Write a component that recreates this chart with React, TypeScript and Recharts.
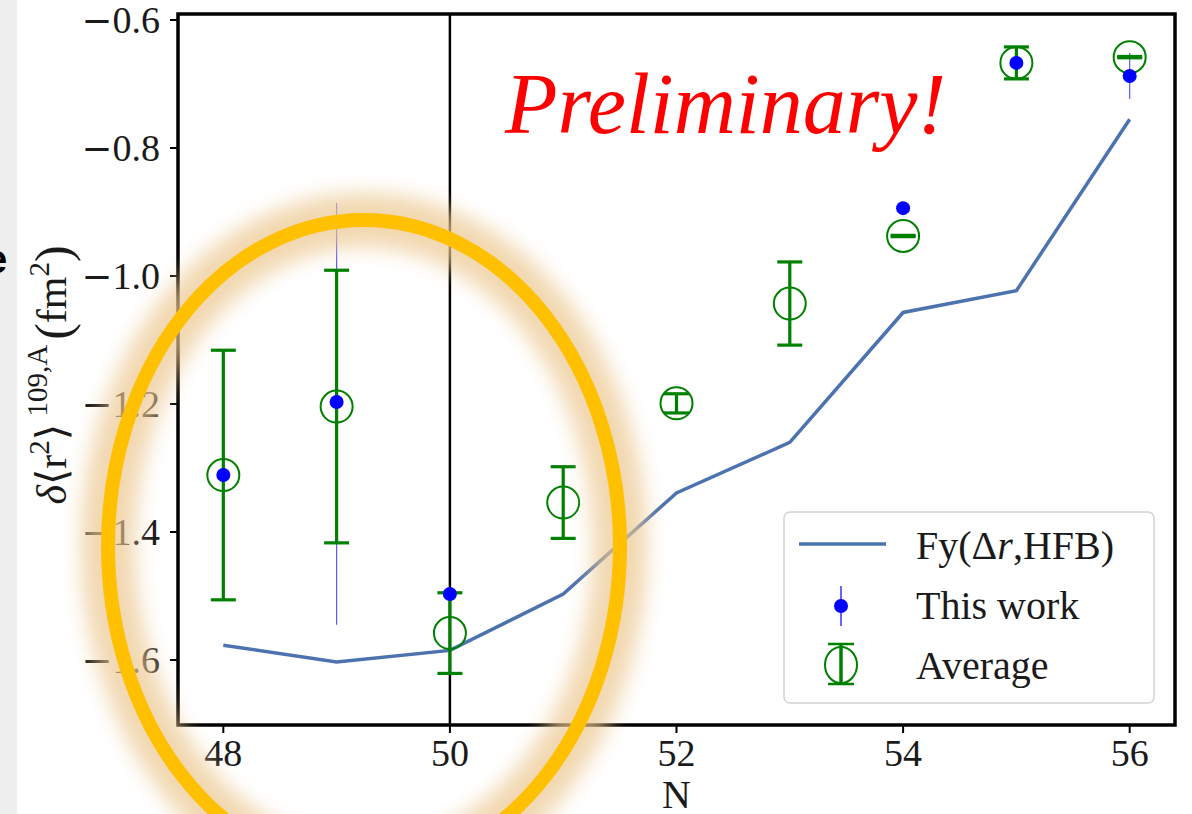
import React from "react";
import {
  ComposedChart,
  Line,
  Scatter,
  ErrorBar,
  XAxis,
  YAxis,
  ReferenceLine,
  ReferenceArea,
  Legend,
} from "recharts";

// Fy(Δr,HFB) model curve
const hfbN = [48, 49, 50, 51, 52, 53, 54, 55, 56];
const hfbValues = [-1.577, -1.603, -1.585, -1.497, -1.339, -1.26, -1.057, -1.023, -0.755];

// This work: value and [lower, upper] uncertainty
const workN = [48, 49, 50, 54, 55, 56];
const workValues = [-1.311, -1.197, -1.497, -0.894, -0.667, -0.6875];
const workErrLow = [0.18, 0.348, 0.01, 0.005, 0.02, 0.036];
const workErrHigh = [0.18, 0.311, 0.01, 0.005, 0.02, 0.036];

// Average of measurements
const avgN = [48, 49, 50, 51, 52, 53, 54, 55, 56];
const avgValues = [-1.311, -1.204, -1.558, -1.354, -1.199, -1.043, -0.9375, -0.667, -0.658];
const avgErr = [0.195, 0.213, 0.063, 0.056, 0.015, 0.065, 0.001, 0.025, 0.001];

const xTicks = [48, 50, 52, 54, 56];
const yTicks = [-1.6, -1.4, -1.2, -1.0, -0.8, -0.6];

const hfbData = hfbN.map((n, i) => ({ n, y: hfbValues[i] }));
const workData = workN.map((n, i) => ({ n, y: workValues[i], err: [workErrLow[i], workErrHigh[i]] }));
const avgData = avgN.map((n, i) => ({ n, y: avgValues[i], err: avgErr[i] }));

const SERIF = "'Liberation Serif', 'DejaVu Serif', serif";
const LINE_BLUE = "#4c72b0";
const GREEN = "#008000";
const INK = "#1a1a1a";

// y tick: long math-style minus sign followed by the number
const YTick = (p: any) => {
  const v: number = p.payload.value;
  return (
    <text x={p.x} y={p.y} dy={13} textAnchor="end" fontFamily={SERIF} fontSize={38} fill={INK}>
      {v < 0 && <tspan fontFamily="'DejaVu Serif', serif" fontSize={37}>−</tspan>}
      <tspan>{Math.abs(v).toFixed(1)}</tspan>
    </text>
  );
};

const YLabel = () => (
  <text
    x={66}
    y={375}
    transform="rotate(-90, 66, 375)"
    textAnchor="middle"
    fontFamily={SERIF}
    fontSize={42}
    fill={INK}
  >
    <tspan fontStyle="italic">δ</tspan>
    <tspan>⟨r</tspan>
    <tspan fontSize={29} dy={-17}>2</tspan>
    <tspan dy={17}>⟩</tspan>
    <tspan fontSize={29} dy={-19}> 109,A</tspan>
    <tspan dy={19} fontSize={20}> </tspan>
    <tspan fontSize={50} dy={4}>(</tspan>
    <tspan dy={-4}>fm</tspan>
    <tspan fontSize={29} dy={-17}>2</tspan>
    <tspan fontSize={50} dy={21}>)</tspan>
  </text>
);

const XLabel = (p: any) => {
  const vb = p.viewBox;
  return (
    <text x={vb.x + vb.width / 2} y={808} textAnchor="middle" fontFamily={SERIF} fontSize={40} fill={INK}>
      N
    </text>
  );
};

const LegendBox = () => (
  <svg width={372} height={193} style={{ display: "block" }}>
    <rect x={1} y={1} width={370} height={191} rx={6} fill="rgba(255,255,255,0.85)" stroke="#d4d4d4" strokeWidth={1.5} />
    <line x1={16} x2={103} y1={33} y2={33} stroke={LINE_BLUE} strokeWidth={3.5} />
    <text x={133} y={48} fontFamily={SERIF} fontSize={40} fill={INK}>
      Fy(Δ<tspan fontStyle="italic">r</tspan>,HFB)
    </text>
    <line x1={58} x2={58} y1={75} y2={115} stroke="#3333ff" strokeWidth={1.5} />
    <circle cx={58} cy={95} r={7} fill="#0000ff" />
    <text x={133} y={108} fontFamily={SERIF} fontSize={40} fill={INK}>This work</text>
    <line x1={58} x2={58} y1={133} y2={173} stroke={GREEN} strokeWidth={3.5} />
    <line x1={45} x2={71} y1={133} y2={133} stroke={GREEN} strokeWidth={2.5} />
    <line x1={45} x2={71} y1={173} y2={173} stroke={GREEN} strokeWidth={2.5} />
    <ellipse cx={58} cy={154} rx={16} ry={18} fill="none" stroke={GREEN} strokeWidth={2} />
    <text x={133} y={168} fontFamily={SERIF} fontSize={40} fill={INK}>Average</text>
  </svg>
);

const HollowCircle = (p: any) => (
  <circle cx={p.cx} cy={p.cy} r={16} fill="none" stroke={GREEN} strokeWidth={2} />
);
const BlueDot = (p: any) => <circle cx={p.cx} cy={p.cy} r={7} fill="#0000ff" />;
const NoMark = () => <g />;

export default function App() {
  return (
    <div style={{ position: "fixed", left: 0, top: 0, width: 1192, height: 814, background: "#fff" }}>
      <ComposedChart width={1192} height={814} margin={{ top: 14, right: 17, bottom: 0, left: 0 }}>
        <XAxis
          dataKey="n"
          type="number"
          domain={[47.6, 56.4]}
          ticks={xTicks}
          allowDataOverflow
          height={89}
          axisLine={false}
          tickLine={{ stroke: "#000", strokeWidth: 2 }}
          tickSize={8}
          tickMargin={6}
          tick={{ fontSize: 38, fill: INK, fontFamily: SERIF }}
          label={{ content: (p: any) => <XLabel {...p} /> }}
        />
        <YAxis
          dataKey="y"
          type="number"
          domain={[-1.7016, -0.5906]}
          ticks={yTicks}
          allowDataOverflow
          width={178}
          axisLine={false}
          tickLine={{ stroke: "#000", strokeWidth: 2 }}
          tickSize={8}
          tickMargin={10}
          tick={<YTick />}
          label={{ content: () => <YLabel /> }}
        />
        <ReferenceLine x={50} stroke="#000" strokeWidth={2.5} ifOverflow="visible" />
        <Line
          data={hfbData}
          dataKey="y"
          stroke={LINE_BLUE}
          strokeWidth={3.5}
          dot={false}
          isAnimationActive={false}
          name="Fy(Δr,HFB)"
        />
        {/* thin uncertainty lines of this work sit under the averages */}
        <Scatter data={workData} dataKey="y" shape={NoMark} isAnimationActive={false} legendType="none">
          <ErrorBar dataKey="err" direction="y" width={0} stroke="#5a5aff" strokeWidth={1.2} isAnimationActive={false} />
        </Scatter>
        <Scatter data={avgData} dataKey="y" shape={HollowCircle} isAnimationActive={false} name="Average">
          <ErrorBar dataKey="err" direction="y" width={12.5} stroke={GREEN} strokeWidth={3.2} isAnimationActive={false} />
        </Scatter>
        <Scatter data={workData} dataKey="y" shape={BlueDot} isAnimationActive={false} name="This work" />
        <ReferenceArea
          x1={47.6}
          x2={56.4}
          y1={-1.7016}
          y2={-0.5906}
          fill="none"
          stroke="#000"
          strokeWidth={3.5}
          ifOverflow="visible"
        />
        <Legend
          layout="horizontal"
          align="center"
          verticalAlign="middle"
          content={() => <LegendBox />}
          wrapperStyle={{ left: 783, top: 511, width: 372, height: 193 }}
        />
      </ComposedChart>
      <svg
        width={1192}
        height={814}
        style={{ position: "absolute", left: 0, top: 0, pointerEvents: "none" }}
      >
        <defs>
          <filter id="glow" x="-20%" y="-20%" width="140%" height="140%">
            <feGaussianBlur stdDeviation={10} />
          </filter>
        </defs>
        <rect x={0} y={0} width={17} height={814} fill="#eeeeee" />
        <text x={-15} y={273} fontFamily="'Liberation Sans', Arial, sans-serif" fontWeight="bold" fontSize={40} fill="#000">
          e
        </text>
        <text x={505} y={133} fontFamily={SERIF} fontStyle="italic" fontSize={86} fill="#ff0000">
          Preliminary!
        </text>
        <ellipse cx={364} cy={546} rx={256} ry={326} fill="none" stroke="#ecc78f" strokeWidth={54} opacity={0.7} filter="url(#glow)" />
        <ellipse cx={364} cy={546} rx={256} ry={326} fill="none" stroke="#ffc000" strokeWidth={14} />
      </svg>
    </div>
  );
}
